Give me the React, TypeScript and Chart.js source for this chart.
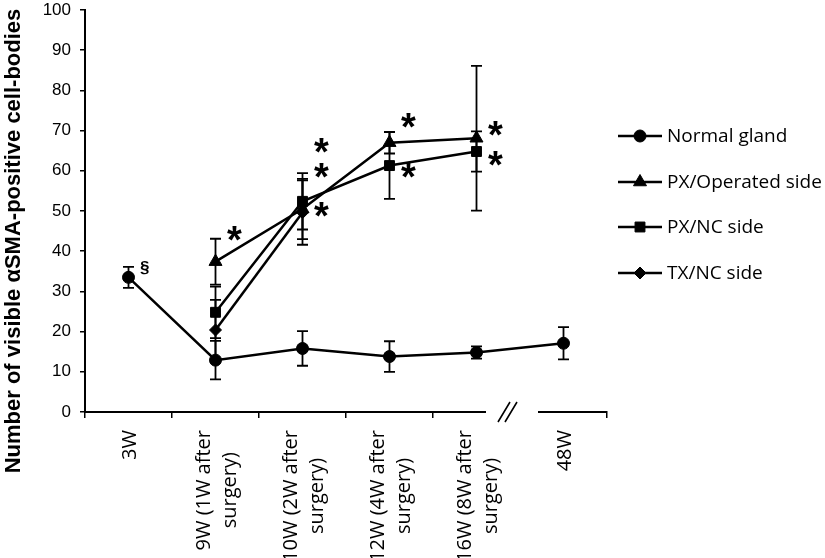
import React, { useEffect, useRef } from 'react';
import { Chart, registerables } from 'chart.js';
import { drawPoint } from 'chart.js/helpers';

Chart.register(...registerables);

// ---- data ----
const categories = ['3W', '9W (1W after surgery)', '10W (2W after surgery)', '12W (4W after surgery)', '16W (8W after surgery)', '48W'];
const tickLabelLines = [['3W'], ['9W (1W after', 'surgery)'], ['10W (2W after', 'surgery)'], ['12W (4W after', 'surgery)'], ['16W (8W after', 'surgery)'], ['48W']];
const seriesNames = ['Normal gland', 'PX/Operated side', 'PX/NC side', 'TX/NC side'];
const normalGland = [33.5, 12.9, 15.8, 13.8, 14.8, 17.1];
const normalGlandErr = [2.6, 4.8, 4.3, 3.8, 1.5, 4.0];
const pxOperated = [null, 37.4, 50.5, 67.0, 68.1, null];
const pxOperatedErr = [null, 5.7, 7.5, 2.7, 18.0, null];
const pxNc = [null, 24.8, 52.4, 61.3, 64.8, null];
const pxNcErr = [null, 6.4, 7.0, 8.3, 5.0, null];
const txNc = [null, 20.4, 49.6, null, null, null];
const txNcErr = [null, 7.5, 8.0, null, null, null];
const yAxisTitle = 'Number of visible αSMA-positive cell-bodies';
const yMin = 0;
const yMax = 100;
const yStep = 10;
// significance marks: category index and value level
const starCategory = [1, 2, 2, 2, 3, 3, 4, 4];
const starValue = [44.5, 66.4, 60.0, 50.4, 72.6, 60.0, 70.4, 63.1];
const sectionCategory = [0];
const sectionValue = [35.8];

const seriesValues = [normalGland, pxOperated, pxNc, txNc];
const seriesErrors = [normalGlandErr, pxOperatedErr, pxNcErr, txNcErr];
const pointStyles = ['circle', 'triangle', 'rect', 'rectRot'];
const pointRadii = [6, 7.5, 7, 6];

const BLACK = '#000000';

function drawCentered(ctx: CanvasRenderingContext2D, text: string, cx: number, cy: number) {
  ctx.textAlign = 'left';
  ctx.textBaseline = 'alphabetic';
  const m = ctx.measureText(text);
  const w = m.actualBoundingBoxRight + m.actualBoundingBoxLeft;
  const x = cx - w / 2 + m.actualBoundingBoxLeft;
  const y = cy + (m.actualBoundingBoxAscent - m.actualBoundingBoxDescent) / 2;
  ctx.fillText(text, x, y);
}

const overlayPlugin = {
  id: 'overlay',
  beforeDatasetsDraw(chart: any) {
    const ctx = chart.ctx as CanvasRenderingContext2D;
    const xs = chart.scales.x;
    const ys = chart.scales.y;
    ctx.save();
    ctx.strokeStyle = BLACK;
    ctx.lineWidth = 1.8;
    seriesValues.forEach((vals, si) => {
      const errs = seriesErrors[si];
      vals.forEach((v, k) => {
        const e = errs[k];
        if (v == null || e == null) return;
        const x = xs.getPixelForValue(k);
        const yt = ys.getPixelForValue(v + e);
        const yb = ys.getPixelForValue(v - e);
        ctx.beginPath();
        ctx.moveTo(x, yt);
        ctx.lineTo(x, yb);
        ctx.moveTo(x - 5.5, yt);
        ctx.lineTo(x + 5.5, yt);
        ctx.moveTo(x - 5.5, yb);
        ctx.lineTo(x + 5.5, yb);
        ctx.stroke();
      });
    });
    ctx.restore();
  },
  afterDraw(chart: any) {
    const ctx = chart.ctx as CanvasRenderingContext2D;
    const xs = chart.scales.x;
    const ys = chart.scales.y;
    const area = chart.chartArea;
    ctx.save();

    // axis break between the last two categories
    const bx = xs.getPixelForValue(4.5);
    ctx.fillStyle = '#ffffff';
    ctx.fillRect(bx - 34, area.bottom - 3, 52, 12);
    ctx.strokeStyle = BLACK;
    ctx.lineWidth = 1.6;
    ctx.beginPath();
    for (const dx of [-16, -9]) {
      ctx.moveTo(bx + dx - 6, area.bottom + 10);
      ctx.lineTo(bx + dx + 6, area.bottom - 10);
    }
    ctx.stroke();

    // x tick labels (rotated, lines centred)
    ctx.fillStyle = BLACK;
    ctx.font = '20px "Open Sans"';
    const lineH = 26;
    const topY = area.bottom + 18;
    tickLabelLines.forEach((lines, i) => {
      const cx = xs.getPixelForValue(i) + 2;
      const maxW = Math.max(...lines.map((l) => ctx.measureText(l).width));
      ctx.save();
      ctx.translate(cx, topY);
      ctx.rotate(-Math.PI / 2);
      ctx.textAlign = 'center';
      ctx.textBaseline = 'middle';
      lines.forEach((l, k) => {
        const ty = (k - (lines.length - 1) / 2) * lineH;
        ctx.fillText(l, -maxW / 2, ty);
      });
      ctx.restore();
    });

    // y axis title
    ctx.save();
    ctx.font = 'bold 22px "Liberation Sans"';
    ctx.translate(14, 241);
    ctx.rotate(-Math.PI / 2);
    ctx.textAlign = 'center';
    ctx.textBaseline = 'middle';
    ctx.fillText(yAxisTitle, 0, 0);
    ctx.restore();

    // significance marks
    ctx.font = 'bold 38px "Liberation Sans"';
    starCategory.forEach((c, i) => {
      drawCentered(ctx, '*', xs.getPixelForValue(c) + 19, ys.getPixelForValue(starValue[i]));
    });
    ctx.font = 'bold 17px "Liberation Sans"';
    sectionCategory.forEach((c, i) => {
      drawCentered(ctx, '§', xs.getPixelForValue(c) + 16, ys.getPixelForValue(sectionValue[i]));
    });

    // legend
    const lx0 = area.right + 11;
    const lx1 = area.right + 55;
    const rowY = [136, 182, 227, 273];
    seriesNames.forEach((name, i) => {
      const y = rowY[i];
      ctx.strokeStyle = BLACK;
      ctx.lineWidth = 2.5;
      ctx.beginPath();
      ctx.moveTo(lx0, y);
      ctx.lineTo(lx1, y);
      ctx.stroke();
      ctx.fillStyle = BLACK;
      ctx.lineWidth = 1;
      drawPoint(ctx, { pointStyle: pointStyles[i], radius: pointRadii[i], borderWidth: 1, rotation: 0 } as any, (lx0 + lx1) / 2, y);
      ctx.font = '19px "Open Sans"';
      ctx.textAlign = 'left';
      ctx.textBaseline = 'middle';
      ctx.fillText(name, lx1 + 5, y + 1);
    });

    ctx.restore();
  },
};

export default function App() {
  const canvasRef = useRef<HTMLCanvasElement | null>(null);

  useEffect(() => {
    if (!canvasRef.current) return;
    const datasets = seriesNames.map((name, i) => ({
      label: name,
      data: seriesValues[i],
      borderColor: BLACK,
      backgroundColor: BLACK,
      borderWidth: 2.5,
      pointStyle: pointStyles[i] as any,
      pointRadius: pointRadii[i],
      pointBorderWidth: 1,
      pointBackgroundColor: BLACK,
      pointBorderColor: BLACK,
      tension: 0,
      spanGaps: false,
    }));
    const chart = new Chart(canvasRef.current, {
      type: 'line',
      data: { labels: categories, datasets },
      plugins: [overlayPlugin],
      options: {
        responsive: false,
        animation: false,
        devicePixelRatio: 1,
        layout: { padding: { top: 10, right: 218, left: 0, bottom: 0 } },
        plugins: { legend: { display: false }, tooltip: { enabled: false } },
        scales: {
          x: {
            type: 'category',
            offset: true,
            grid: { display: true, drawOnChartArea: false, drawTicks: true, tickLength: 6, color: BLACK, lineWidth: 1.5, offset: true },
            border: { display: true, color: BLACK, width: 2 },
            ticks: { callback: () => '', autoSkip: false, maxRotation: 0 },
            afterFit: (scale: any) => {
              scale.height = 146;
              scale.paddingLeft = 0;
              scale.paddingRight = 0;
            },
          },
          y: {
            min: yMin,
            max: yMax,
            grid: { display: true, drawOnChartArea: false, drawTicks: true, tickLength: 5, color: BLACK, lineWidth: 1.5 },
            border: { display: true, color: BLACK, width: 2 },
            ticks: { stepSize: yStep, color: BLACK, padding: 9, font: { family: '"Liberation Sans"', size: 17 } },
            afterFit: (scale: any) => {
              scale.width = 85;
              scale.paddingTop = 0;
              scale.paddingBottom = 0;
            },
          },
        },
      },
    });
    return () => chart.destroy();
  }, []);

  return (
    <div style={{ position: 'absolute', left: 0, top: 0, width: 825, height: 558, background: '#ffffff' }}>
      <canvas ref={canvasRef} width={825} height={558} style={{ display: 'block', width: 825, height: 558 }} />
    </div>
  );
}
